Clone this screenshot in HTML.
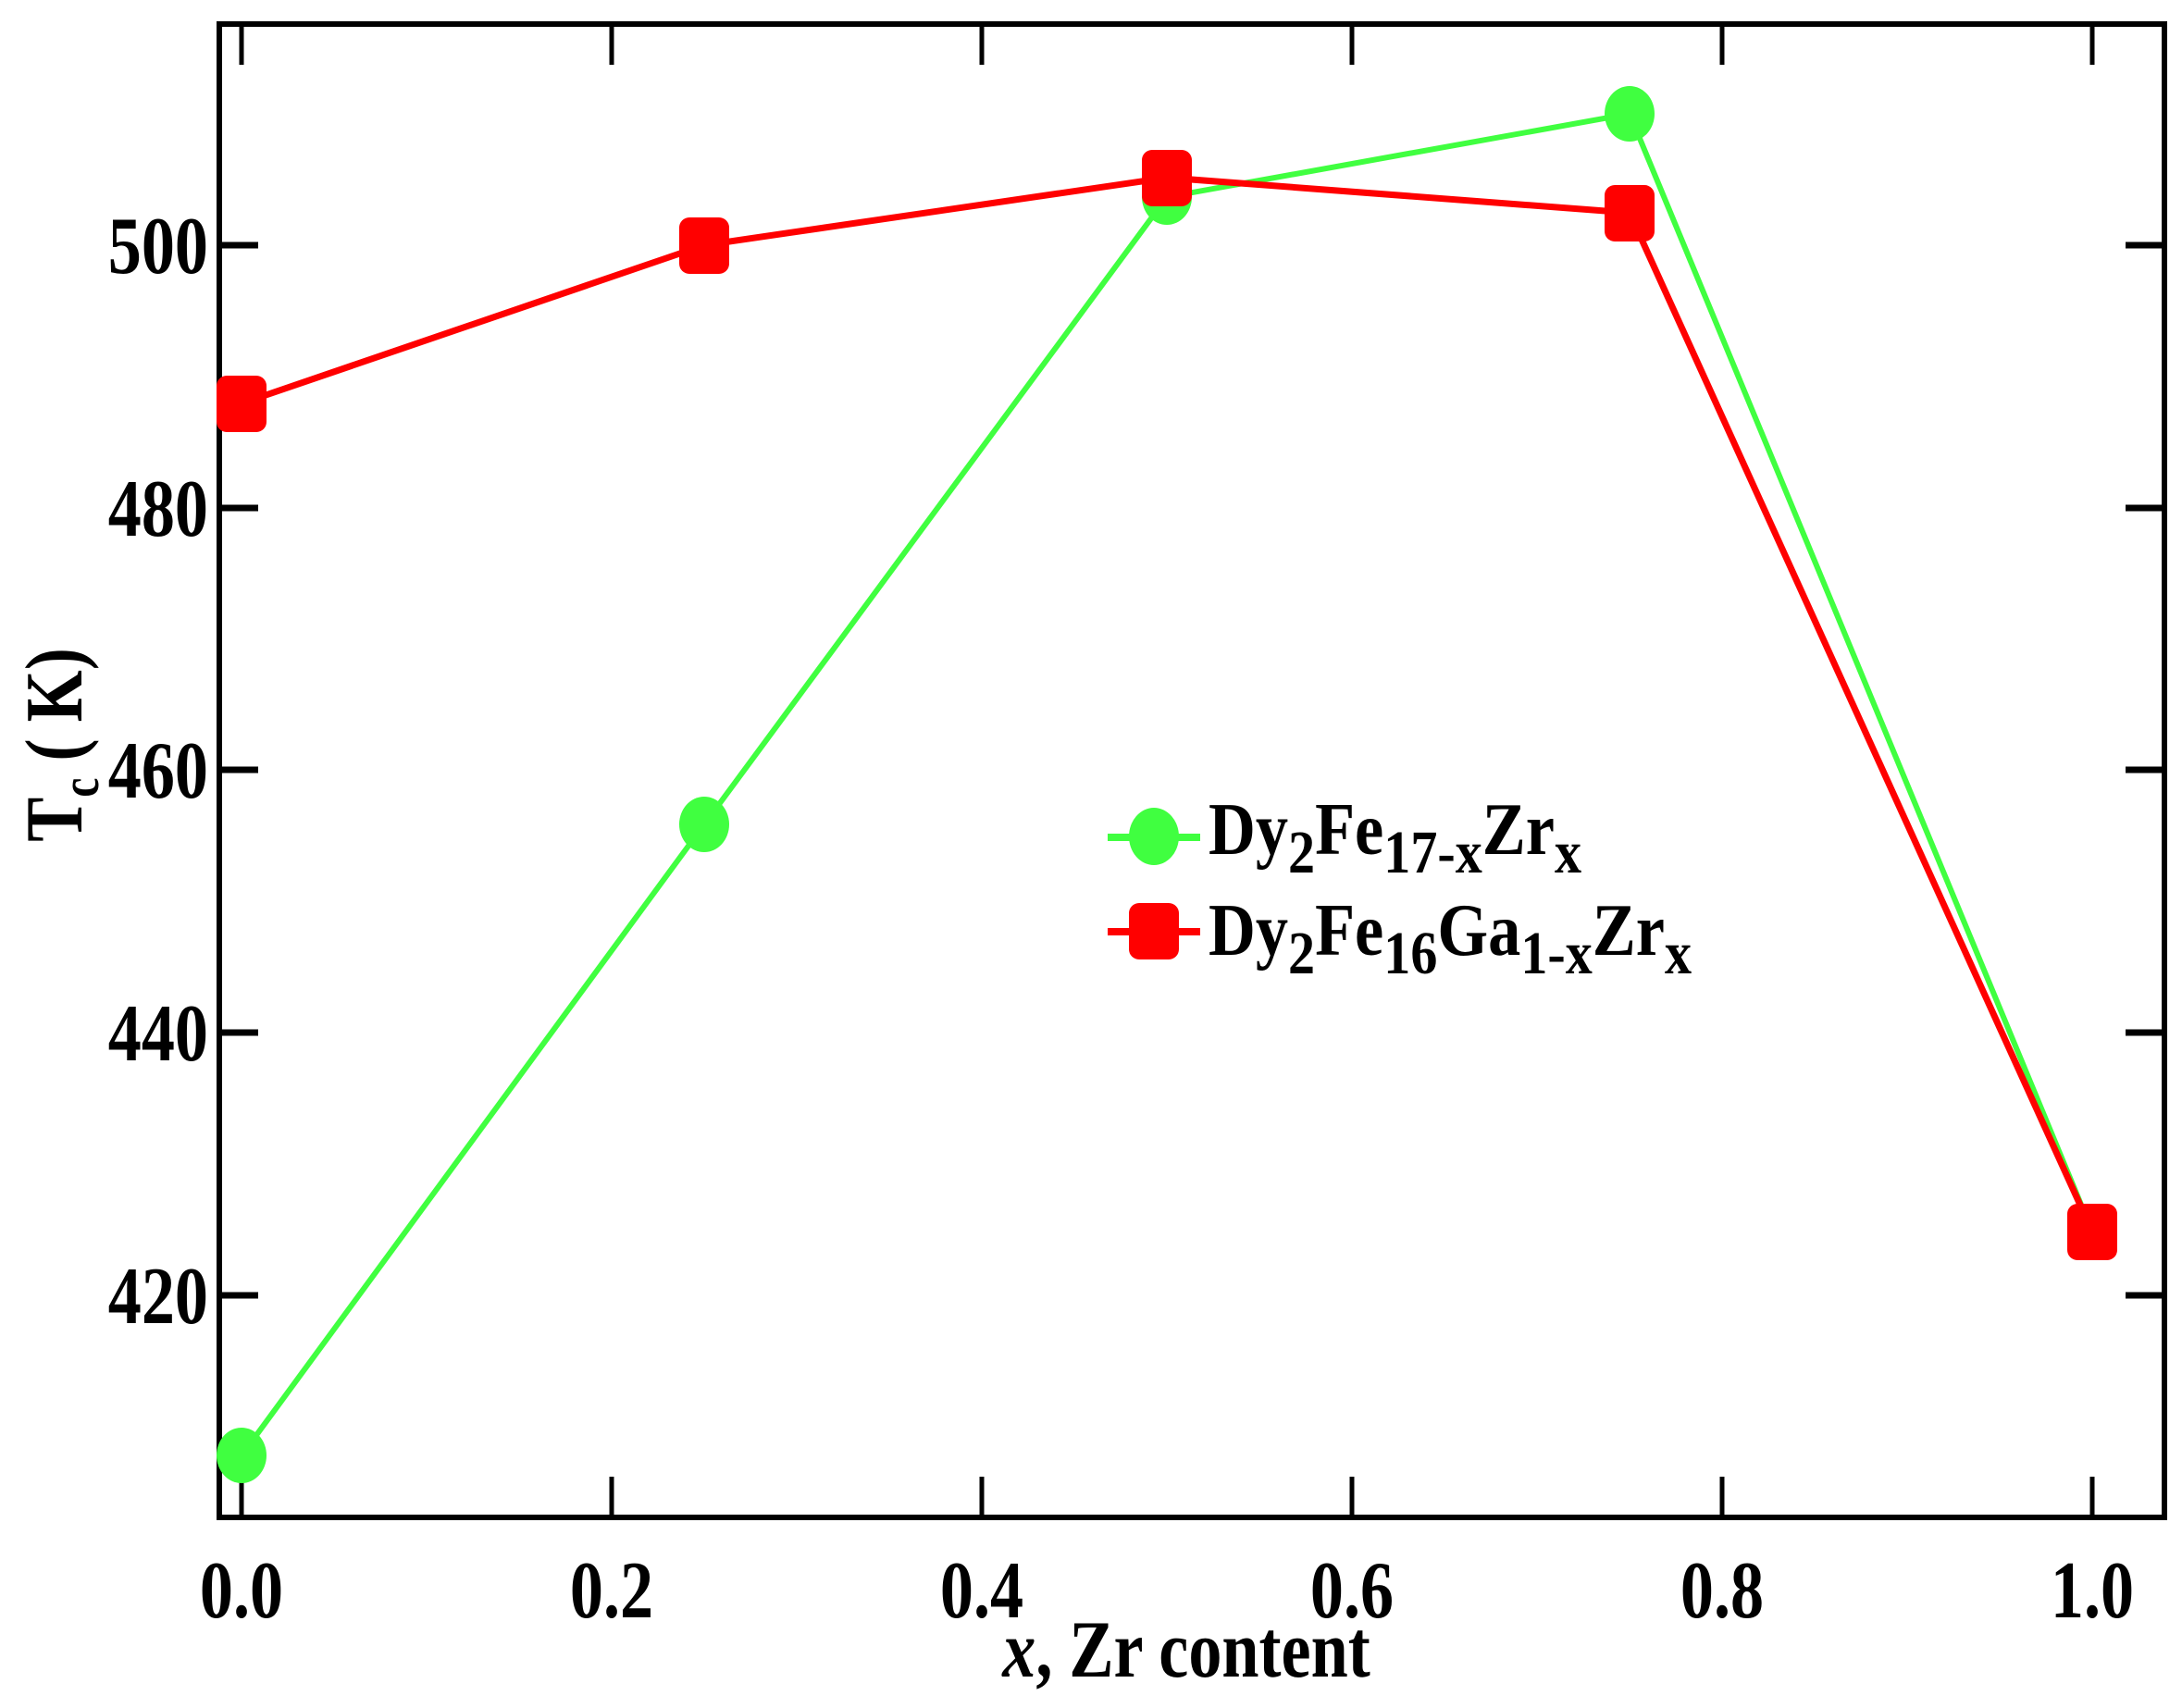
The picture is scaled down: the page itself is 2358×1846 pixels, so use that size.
<!DOCTYPE html>
<html><head><meta charset="utf-8"><style>html,body{margin:0;padding:0;background:#fff}svg{display:block}</style></head>
<body>
<svg width="2358" height="1846" viewBox="0 0 2358 1846" xmlns="http://www.w3.org/2000/svg">
<rect width="2358" height="1846" fill="#fff"/>
<g stroke="#000" stroke-width="6" fill="none">
<rect x="237" y="26" width="2102" height="1614"/>
</g>
<g stroke="#000" stroke-width="5">
<line x1="261" y1="26" x2="261" y2="70"/><line x1="661" y1="26" x2="661" y2="70"/><line x1="1061" y1="26" x2="1061" y2="70"/><line x1="1461" y1="26" x2="1461" y2="70"/><line x1="1861" y1="26" x2="1861" y2="70"/><line x1="2261" y1="26" x2="2261" y2="70"/>
<line x1="261" y1="1640" x2="261" y2="1596"/><line x1="661" y1="1640" x2="661" y2="1596"/><line x1="1061" y1="1640" x2="1061" y2="1596"/><line x1="1461" y1="1640" x2="1461" y2="1596"/><line x1="1861" y1="1640" x2="1861" y2="1596"/><line x1="2261" y1="1640" x2="2261" y2="1596"/>
</g>
<g stroke="#000" stroke-width="7">
<line x1="237" y1="265" x2="279" y2="265"/><line x1="237" y1="549" x2="279" y2="549"/><line x1="237" y1="832" x2="279" y2="832"/><line x1="237" y1="1116" x2="279" y2="1116"/><line x1="237" y1="1400" x2="279" y2="1400"/>
<line x1="2339" y1="265" x2="2297" y2="265"/><line x1="2339" y1="549" x2="2297" y2="549"/><line x1="2339" y1="832" x2="2297" y2="832"/><line x1="2339" y1="1116" x2="2297" y2="1116"/><line x1="2339" y1="1400" x2="2297" y2="1400"/>
</g>
<g font-family="Liberation Serif, serif" font-weight="bold" font-size="88" fill="#000">
<g text-anchor="end">
<text x="225" y="295" transform="translate(225 0) scale(0.82 1) translate(-225 0)">500</text>
<text x="225" y="579" transform="translate(225 0) scale(0.82 1) translate(-225 0)">480</text>
<text x="225" y="862" transform="translate(225 0) scale(0.82 1) translate(-225 0)">460</text>
<text x="225" y="1146" transform="translate(225 0) scale(0.82 1) translate(-225 0)">440</text>
<text x="225" y="1430" transform="translate(225 0) scale(0.82 1) translate(-225 0)">420</text>
</g>
<g text-anchor="middle">
<text x="261" y="1748" transform="translate(261 0) scale(0.82 1) translate(-261 0)">0.0</text>
<text x="661" y="1748" transform="translate(661 0) scale(0.82 1) translate(-661 0)">0.2</text>
<text x="1061" y="1748" transform="translate(1061 0) scale(0.82 1) translate(-1061 0)">0.4</text>
<text x="1461" y="1748" transform="translate(1461 0) scale(0.82 1) translate(-1461 0)">0.6</text>
<text x="1861" y="1748" transform="translate(1861 0) scale(0.82 1) translate(-1861 0)">0.8</text>
<text x="2261" y="1748" transform="translate(2261 0) scale(0.82 1) translate(-2261 0)">1.0</text>
</g>
<text x="1282" y="1812" text-anchor="middle" transform="translate(1282 0) scale(0.82 1) translate(-1282 0)"><tspan font-style="italic">x</tspan>, Zr content</text>
<text transform="translate(88 805) rotate(-90) scale(0.82 1)" text-anchor="middle">T<tspan font-size="58" dy="18">c</tspan><tspan dy="-18"> ( K)</tspan></text>
</g>
<polyline points="261,1573 761,891 1261,213 1761,123 2261,1331" fill="none" stroke="#40ff40" stroke-width="6"/>
<polyline points="261,436 761,265 1261,192 1761,230 2261,1331" fill="none" stroke="#ff0000" stroke-width="7"/>
<g fill="#40ff40">
<ellipse cx="261" cy="1573" rx="27" ry="30"/><ellipse cx="761" cy="891" rx="27" ry="30"/><ellipse cx="1261" cy="213" rx="27" ry="30"/><ellipse cx="1761" cy="123" rx="27" ry="30"/><ellipse cx="2261" cy="1331" rx="27" ry="30"/>
</g>
<g fill="#ff0000">
<rect x="234" y="406" width="54" height="61" rx="11"/><rect x="734" y="235" width="54" height="61" rx="11"/><rect x="1234" y="162" width="54" height="61" rx="11"/><rect x="1734" y="200" width="54" height="61" rx="11"/><rect x="2234" y="1301" width="54" height="61" rx="11"/>
</g>
<line x1="1197" y1="905" x2="1297" y2="905" stroke="#40ff40" stroke-width="8"/>
<ellipse cx="1247" cy="904" rx="27" ry="31" fill="#40ff40"/>
<line x1="1197" y1="1007" x2="1297" y2="1007" stroke="#ff0000" stroke-width="8"/>
<rect x="1220" y="976" width="54" height="61" rx="11" fill="#ff0000"/>
<g font-family="Liberation Serif, serif" font-weight="bold" fill="#000">
<text x="1306" y="923" font-size="80" transform="translate(1306 0) scale(0.88 1) translate(-1306 0)">Dy<tspan font-size="66" dy="20">2</tspan><tspan dy="-20">Fe</tspan><tspan font-size="66" dy="20">17-x</tspan><tspan dy="-20">Zr</tspan><tspan font-size="66" dy="20">x</tspan></text>
<text x="1306" y="1032" font-size="80" transform="translate(1306 0) scale(0.88 1) translate(-1306 0)">Dy<tspan font-size="66" dy="20">2</tspan><tspan dy="-20">Fe</tspan><tspan font-size="66" dy="20">16</tspan><tspan dy="-20">Ga</tspan><tspan font-size="66" dy="20">1-x</tspan><tspan dy="-20">Zr</tspan><tspan font-size="66" dy="20">x</tspan></text>
</g>
</svg>
</body></html>
